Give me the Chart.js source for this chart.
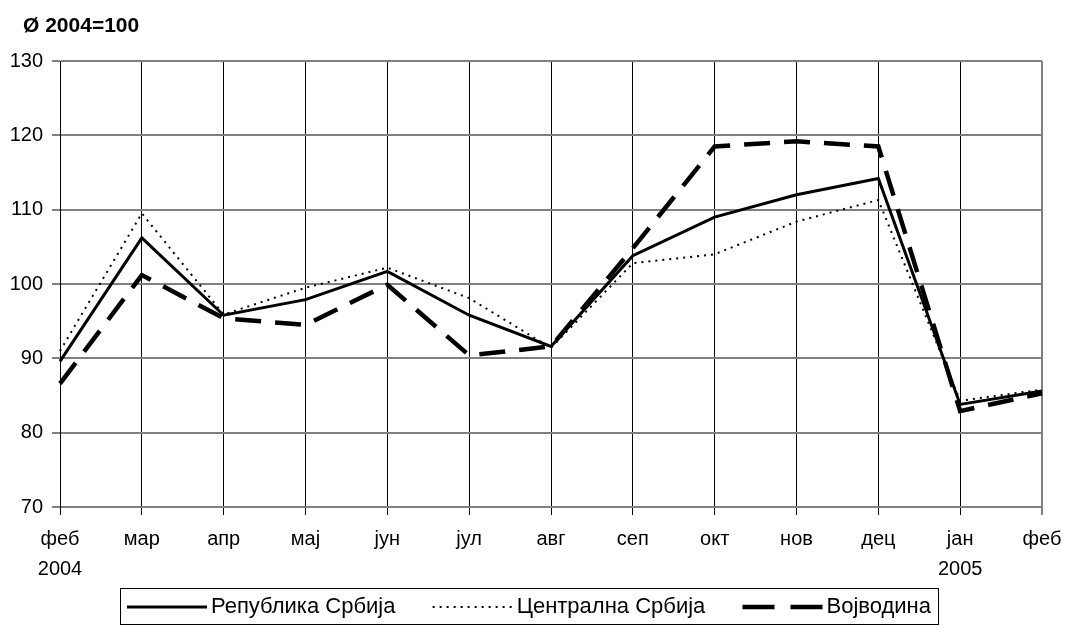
<!DOCTYPE html>
<html>
<head>
<meta charset="utf-8">
<script src="https://cdn.jsdelivr.net/npm/chart.js@4.4.1/dist/chart.umd.min.js"></script>
<style>
html,body{margin:0;padding:0;background:#fff;}
canvas{display:block;}
</style>
</head>
<body>
<canvas id="c" width="1066" height="629"></canvas>
<script>
const categories = [['феб','2004'],'мар','апр','мај','јун','јул','авг','сеп','окт','нов','дец',['јан','2005'],'феб'];
const republikaSrbija = [89.6,106.2,95.8,97.9,101.7,95.8,91.6,103.8,109.0,112.0,114.2,83.8,85.6];
const centralnaSrbija = [91.0,109.5,95.9,99.5,102.2,98.1,91.4,102.8,104.0,108.4,111.3,84.3,85.8];
const vojvodina = [86.6,101.2,95.4,94.5,99.9,90.4,91.6,104.8,118.5,119.2,118.5,82.9,85.3];
const yTicks = [70,80,90,100,110,120,130];
const titleText = 'Ø 2004=100';
const seriesNames = ['Република Србија','Централна Србија','Војводина'];

const FONT = "'Liberation Sans', Arial, sans-serif";

const styles = [
  {width:3, dash:[], legendDash:[]},
  {width:2, dash:[2,5], legendDash:[2,5]},
  {width:4.5, dash:[26,14], legendDash:[32,16]}
];

const overlay = {
  id:'overlay',
  afterDraw(chart){
    const ctx = chart.ctx;
    ctx.save();
    // title
    ctx.fillStyle = '#000';
    ctx.font = "bold 21px " + FONT;
    ctx.textBaseline = 'alphabetic';
    ctx.textAlign = 'left';
    ctx.fillText(titleText, 23, 32);
    // legend
    ctx.font = "22px " + FONT;
    const boxLeft = 120, boxRight = 938;
    const sample = 80, gapAfter = 4, pad = 7;
    const widths = seriesNames.map(n => ctx.measureText(n).width);
    const fixed = pad*2 + 3*(sample+gapAfter) + widths.reduce((a,b)=>a+b,0);
    const itemGap = Math.max(4, (boxRight - boxLeft - fixed)/2);
    const top = 588, h = 36;
    ctx.strokeStyle = '#000';
    ctx.lineWidth = 1;
    ctx.setLineDash([]);
    ctx.strokeRect(boxLeft+0.5, top+0.5, boxRight-boxLeft, h);
    let x = boxLeft + pad;
    const ly = 607;
    ctx.textBaseline = 'middle';
    for (let i=0;i<3;i++){
      ctx.beginPath();
      ctx.lineWidth = styles[i].width;
      ctx.setLineDash(styles[i].legendDash);
      ctx.moveTo(x, ly);
      ctx.lineTo(x+sample, ly);
      ctx.stroke();
      ctx.setLineDash([]);
      x += sample + gapAfter;
      ctx.fillText(seriesNames[i], x, ly);
      x += widths[i] + itemGap;
    }
    ctx.restore();
  }
};

const allSeries = [republikaSrbija, centralnaSrbija, vojvodina];
const datasets = allSeries.map((d,i)=>({
  label: seriesNames[i],
  data: d,
  borderColor:'#000',
  backgroundColor:'#000',
  borderWidth: styles[i].width,
  borderDash: styles[i].dash,
  pointRadius:0,
  tension:0,
  fill:false,
  borderCapStyle:'butt',
  borderJoinStyle:'miter'
}));

new Chart(document.getElementById('c'), {
  type:'line',
  data:{labels:categories, datasets},
  plugins:[overlay],
  options:{
    responsive:false,
    animation:false,
    devicePixelRatio:1,
    layout:{padding:{top:61,right:0,bottom:52,left:0}},
    plugins:{legend:{display:false}, title:{display:false}, tooltip:{enabled:false}},
    scales:{
      x:{
        offset:false,
        grid:{
          color:(c)=> (c.index === categories.length-1 ? '#808080' : '#000'),
          lineWidth:(c)=> (c.index === categories.length-1 ? 2 : 1),
          tickLength:8,
          drawOnChartArea:true
        },
        border:{display:true,color:'#808080',width:2},
        ticks:{
          color:'#000', font:{family:FONT,size:20,lineHeight:1.5},
          padding:9, maxRotation:0, autoSkip:false
        },
        afterFit(s){ s.height = 70; s.paddingRight = 24; s.paddingLeft = 0; }
      },
      y:{
        min:70, max:130,
        afterBuildTicks(s){ s.ticks = yTicks.map(v=>({value:v})); },
        grid:{color:'#808080', lineWidth:2, tickLength:8},
        border:{display:true,color:'#000',width:1},
        ticks:{color:'#000', font:{family:FONT,size:20}, padding:9},
        afterFit(s){ s.width = 60; s.paddingTop = 0; s.paddingBottom = 0; }
      }
    }
  }
});
</script>
</body>
</html>
